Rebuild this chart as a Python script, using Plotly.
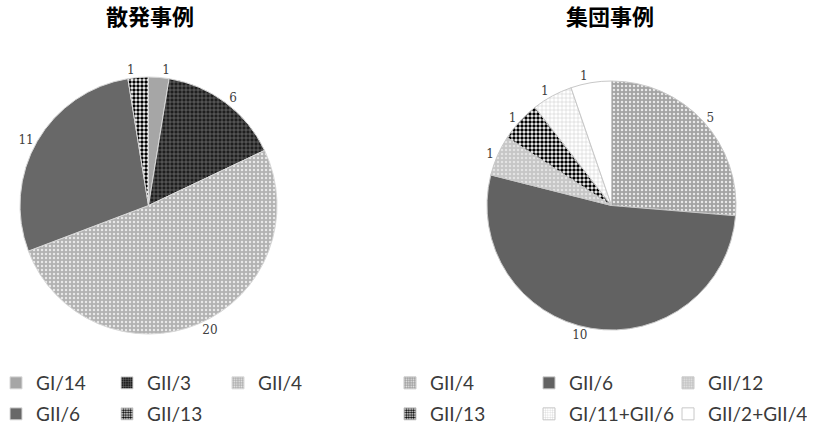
import plotly.graph_objects as go

# Data
left_title = "散発事例"
left_labels = ["GI/14", "GII/3", "GII/4", "GII/6", "GII/13"]
left_values = [1, 6, 20, 11, 1]

right_title = "集団事例"
right_labels = ["GII/4", "GII/6", "GII/12", "GII/13", "GI/11+GII/6", "GII/2+GII/4"]
right_values = [5, 10, 1, 1, 1, 1]

# Styles
left_bg = ["#a6a6a6", "#1e1e1e", "#b2b2b2", "#686868", "#ffffff"]
left_fg = ["#a6a6a6", "#8c8c8c", "#e8e8e8", "#686868", "#000000"]
left_shape = ["", "+", ".", "", "."]
left_solid = [0.2, 0.25, 0.3, 0.2, 0.6]

right_bg = ["#a3a3a3", "#626262", "#c6c6c6", "#ffffff", "#ffffff", "#ffffff"]
right_fg = ["#e8e8e8", "#626262", "#e4e4e4", "#000000", "#c4c4c4", "#ffffff"]
right_shape = [".", "", ".", ".", "+", ""]
right_solid = [0.3, 0.2, 0.3, 0.6, 0.2, 0.2]

label_font = dict(family="DejaVu Serif", size=12, color="#404040")
legend_font = dict(family="Lato", size=19, color="#3a3a3a")

fig = go.Figure()

fig.add_trace(go.Pie(
    labels=left_labels, values=left_values, sort=False, direction="clockwise",
    rotation=0, textinfo="value", textposition="outside", textfont=label_font,
    marker=dict(colors=left_bg, line=dict(color="#d8d8d8", width=1),
                pattern=dict(shape=left_shape, fgcolor=left_fg, bgcolor=left_bg,
                             size=4, solidity=left_solid, fillmode="replace")),
    domain=dict(x=[20/814, 277/814], y=[1-334/430, 1-77/430]),
    showlegend=False, hoverinfo="label+value",
))

fig.add_trace(go.Pie(
    labels=right_labels, values=right_values, sort=False, direction="clockwise",
    rotation=0, textinfo="value", textposition="outside", textfont=label_font,
    marker=dict(colors=right_bg, line=dict(color="#c8c8c8", width=1),
                pattern=dict(shape=right_shape, fgcolor=right_fg, bgcolor=right_bg,
                             size=4, solidity=right_solid, fillmode="replace")),
    domain=dict(x=[487/814, 736/814], y=[1-331/430, 1-80/430]),
    showlegend=False, hoverinfo="label+value",
))

# Legend entries (zero-height bars on a hidden axis, one per category);
# three entries per legend row, as in the reference.
def add_legend_entries(labels, bg, fg, shape, solid, legend_ids, line_color):
    for i, (lab, b, f, s, so) in enumerate(zip(labels, bg, fg, shape, solid)):
        fig.add_trace(go.Bar(
            x=[lab], y=[0], name=lab, legend=legend_ids[i // 3], showlegend=True,
            marker=dict(color=b, line=dict(color=line_color, width=1),
                        pattern=dict(shape=s, fgcolor=f, bgcolor=b, size=3,
                                     solidity=so, fillmode="replace")),
            hoverinfo="skip",
        ))

add_legend_entries(left_labels, left_bg, left_fg, left_shape, left_solid,
                   ["legend", "legend2"], "#d8d8d8")
add_legend_entries(right_labels, right_bg, right_fg, right_shape, right_solid,
                   ["legend3", "legend4"], "#c8c8c8")

def legend_box(x_px, y_px, entry_w):
    return dict(orientation="h", x=x_px/814, y=1-y_px/430, xanchor="left", yanchor="top",
                font=legend_font, entrywidth=entry_w, entrywidthmode="pixels",
                bgcolor="rgba(0,0,0,0)", traceorder="normal")

fig.update_layout(
    width=814, height=430, margin=dict(l=0, r=0, t=0, b=0, autoexpand=False),
    paper_bgcolor="white", plot_bgcolor="rgba(0,0,0,0)",
    xaxis=dict(visible=False, domain=[0, 0.001]),
    yaxis=dict(visible=False, domain=[0, 0.001]),
    legend=legend_box(-4, 364, 66),
    legend2=legend_box(-4, 395, 66),
    legend3=legend_box(390, 364, 94),
    legend4=legend_box(390, 395, 94),
    annotations=[
        dict(text="<b>" + left_title + "</b>", x=150/814, y=1+3/430, xref="paper", yref="paper",
             xanchor="center", yanchor="top", showarrow=False,
             font=dict(family="Noto Sans CJK JP", size=22, color="#000000")),
        dict(text="<b>" + right_title + "</b>", x=610/814, y=1+3/430, xref="paper", yref="paper",
             xanchor="center", yanchor="top", showarrow=False,
             font=dict(family="Noto Sans CJK JP", size=22, color="#000000")),
    ],
)

fig.write_html("out.html")
